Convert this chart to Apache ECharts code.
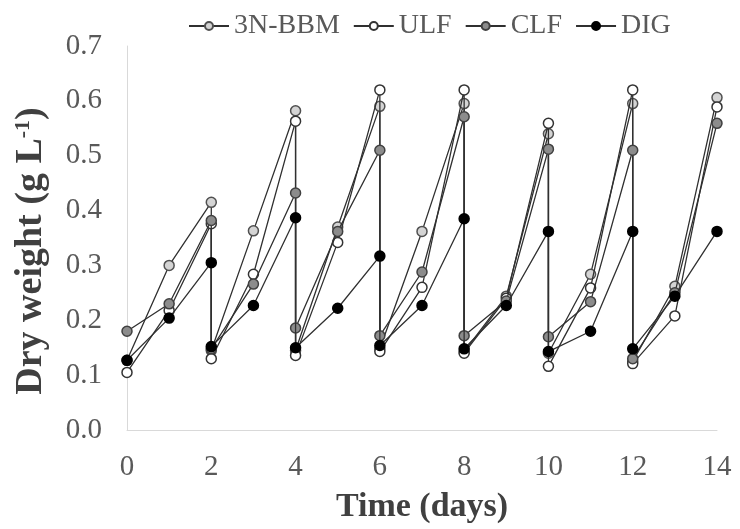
<!DOCTYPE html>
<html>
<head>
<meta charset="utf-8">
<script src="https://cdn.jsdelivr.net/npm/echarts@6/dist/echarts.min.js"></script>
<style>html,body{margin:0;padding:0;background:#fff;}#c{width:740px;height:529px;}</style>
</head>
<body>
<div id="c"></div>
<script>
// Time points (days); repeated days mark the medium exchange (drop)
var days = [0,1,2,2,3,4,4,5,6,6,7,8,8,9,10,10,11,12,12,13,14];
var bbm  = [0.127,0.300,0.415,0.145,0.363,0.582,0.145,0.370,0.590,0.148,0.362,0.595,0.143,0.244,0.540,0.140,0.284,0.595,0.125,0.262,0.606];
var ulf  = [0.105,0.218,0.376,0.130,0.284,0.563,0.136,0.342,0.620,0.143,0.260,0.620,0.140,0.240,0.559,0.116,0.259,0.620,0.121,0.208,0.589];
var clf  = [0.180,0.230,0.382,0.148,0.266,0.432,0.186,0.362,0.510,0.172,0.288,0.571,0.172,0.235,0.512,0.170,0.234,0.510,0.130,0.250,0.559];
var dig  = [0.127,0.204,0.305,0.152,0.227,0.387,0.150,0.222,0.317,0.154,0.227,0.385,0.148,0.227,0.362,0.143,0.180,0.362,0.148,0.244,0.362];
var seriesNames = ['3N-BBM','ULF','CLF','DIG'];
var xTicks = [0,2,4,6,8,10,12,14];

function pairs(vals){ return days.map(function(d,i){ return [d, vals[i]]; }); }

var fills = ['#d4d4d4','#ffffff','#8c8c8c','#000000'];
var borders = ['#505050','#333333','#404040','#000000'];
var allVals = [bbm, ulf, clf, dig];

var chart = echarts.init(document.getElementById('c'));
var font = '"Liberation Serif","Times New Roman",serif';
chart.setOption({
  animation:false,
  backgroundColor:'#fff',
  legend:{
    top:7, left:183, itemWidth:40, itemHeight:10, itemGap:13,
    textStyle:{fontFamily:font, fontSize:28, color:'#595959'},
    data: seriesNames
  },
  grid:{left:127, right:23, top:46, bottom:97},
  xAxis:{
    type:'value', min:0, max:14, interval:2,
    name:'Time (days)', nameLocation:'middle', nameGap:60,
    nameTextStyle:{fontFamily:font, fontSize:34, fontWeight:'bold', color:'#404040'},
    axisLine:{lineStyle:{color:'#d9d9d9', width:1}},
    axisTick:{show:false},
    splitLine:{show:false},
    axisLabel:{fontFamily:font, fontSize:29, color:'#595959', margin:23,
      formatter:function(v){ return xTicks.indexOf(v)>=0 ? String(v) : ''; }}
  },
  yAxis:{
    type:'value', min:0, max:0.7, interval:0.1,
    name:'{a|Dry weight (g L}{s|-1}{a|)}', nameLocation:'middle', nameGap:77, nameRotate:90,
    nameTextStyle:{padding:[0,26,0,0], rich:{
      a:{fontFamily:font, fontSize:38, fontWeight:'bold', color:'#404040'},
      s:{fontFamily:font, fontSize:22, fontWeight:'bold', color:'#404040', verticalAlign:'top', padding:[0,0,15,0]}
    }},
    axisLine:{show:true, lineStyle:{color:'#d9d9d9', width:1}},
    axisTick:{show:false},
    splitLine:{show:false},
    axisLabel:{fontFamily:font, fontSize:29, color:'#595959', margin:25,
      formatter:function(v){ return v.toFixed(1); }}
  },
  series: seriesNames.map(function(n,k){
    return {
      name:n, type:'line', data:pairs(allVals[k]),
      symbol:'circle', symbolSize:10, showSymbol:true,
      lineStyle:{color:'#303030', width:1.3},
      itemStyle:{color:fills[k], borderColor:borders[k], borderWidth:1.5},
      z: 2+k
    };
  })
});
</script>
</body>
</html>
